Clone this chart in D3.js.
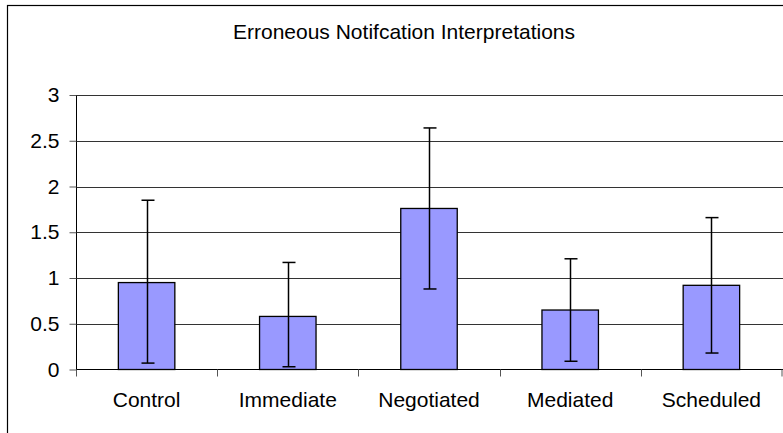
<!DOCTYPE html>
<html><head><meta charset="utf-8">
<script src="https://cdn.jsdelivr.net/npm/d3@7"></script>
<style>body{margin:0;background:#fff}svg{display:block}text{font-family:"Liberation Sans",Arial,sans-serif;fill:#000}</style>
</head><body><svg id="c" width="783" height="433"></svg>
<script>
const title = "Erroneous Notifcation Interpretations";
const categories = ["Control","Immediate","Negotiated","Mediated","Scheduled"];
const means = [0.95, 0.58, 1.76, 0.65, 0.92];
const errLow = [0.07, 0.03, 0.88, 0.09, 0.18];
const errHigh = [1.85, 1.17, 2.64, 1.21, 1.66];
const yTicks = [0, 0.5, 1, 1.5, 2, 2.5, 3];
const yTickLabels = ["0","0.5","1","1.5","2","2.5","3"];

const svg = d3.select("#c");
const L = 76, R = 782, T = 95, B = 369.5;
const FS = "21px";
const x = d3.scaleBand().domain(categories).range([L, R]).paddingInner(0.6).paddingOuter(0.3);
const xb = d3.scaleBand().domain(categories).range([L, R]);
const y = d3.scaleLinear().domain([0, 3]).range([B, T]);

// outer border (chart area cropped at right/bottom)
svg.append("rect").attr("x", 7.5).attr("y", 5.5).attr("width", 800).attr("height", 500)
  .attr("fill", "none").attr("stroke", "#000").attr("stroke-width", 1.2);

svg.append("text").attr("x", 404).attr("y", 39).attr("text-anchor", "middle")
  .style("font-size", FS).text(title);

// gridlines
svg.append("g").selectAll("line").data(yTicks.filter(d => d > 0)).join("line")
  .attr("x1", L).attr("x2", R + 1).attr("y1", d => Math.round(y(d)) + 0.5).attr("y2", d => Math.round(y(d)) + 0.5)
  .attr("stroke", "#333").attr("stroke-width", 1);

// y axis
const yAxis = d3.axisLeft(y).tickValues(yTicks).tickSize(7).tickPadding(10)
  .tickFormat((d, i) => yTickLabels[i]);
const gy = svg.append("g").attr("transform", `translate(${L + 0.5},0)`).call(yAxis);
gy.select(".domain").attr("stroke", "#000").attr("d", `M0,${T}V${B}`);
gy.selectAll(".tick line").attr("stroke", "#555");
gy.selectAll(".tick text").style("font-size", FS).style("font-family", '"Liberation Sans",Arial,sans-serif').attr("fill", "#000");

// bars
svg.append("g").selectAll("rect").data(categories).join("rect")
  .attr("x", d => x(d)).attr("width", x.bandwidth())
  .attr("y", (d, i) => y(means[i])).attr("height", (d, i) => B - y(means[i]))
  .attr("fill", "#9999ff").attr("stroke", "#000").attr("stroke-width", 1.3);

// x axis
const xAxis = d3.axisBottom(xb).tickSize(0).tickPadding(23);
const gx = svg.append("g").attr("transform", `translate(0,${B})`).call(xAxis);
gx.select(".domain").attr("stroke", "#000").attr("d", `M${L},0H${R + 1}`);
gx.selectAll(".tick text").style("font-size", FS).style("font-family", '"Liberation Sans",Arial,sans-serif').attr("fill", "#000");
// category boundary ticks
svg.append("g").selectAll("line").data(categories.map((c, i) => i)).join("line")
  .attr("x1", i => Math.round(xb(categories[i])) + 0.5).attr("x2", i => Math.round(xb(categories[i])) + 0.5)
  .attr("y1", B).attr("y2", B + 7).attr("stroke", "#555");
svg.append("line").attr("x1", R).attr("x2", R).attr("y1", B).attr("y2", B + 7).attr("stroke", "#555");

// error bars
const eg = svg.append("g").attr("stroke", "#000").attr("stroke-width", 1.5);
categories.forEach((c, i) => {
  const cx = Math.round(xb(c) + xb.bandwidth() / 2) + 0.5;
  eg.append("line").attr("x1", cx).attr("x2", cx).attr("y1", y(errLow[i])).attr("y2", y(errHigh[i]));
  eg.append("line").attr("x1", cx - 6).attr("x2", cx + 7).attr("y1", y(errLow[i])).attr("y2", y(errLow[i]));
  eg.append("line").attr("x1", cx - 6).attr("x2", cx + 7).attr("y1", y(errHigh[i])).attr("y2", y(errHigh[i]));
});
</script></body></html>
